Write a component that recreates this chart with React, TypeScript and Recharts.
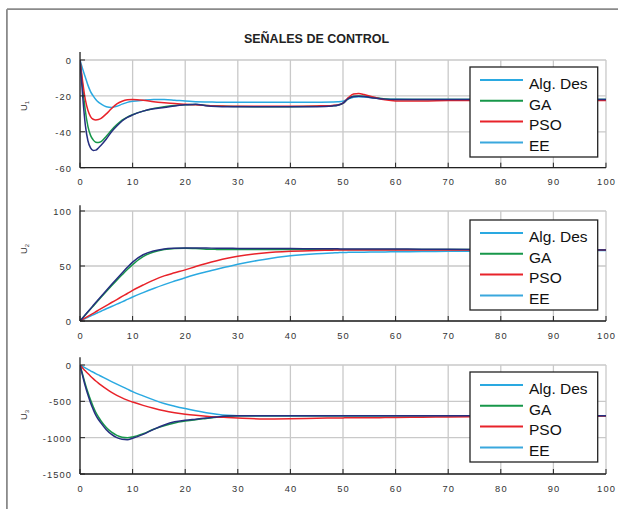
import React from 'react';
import { LineChart, Line, XAxis, YAxis, CartesianGrid, ReferenceLine } from 'recharts';

// ---------------- data ----------------
const TITLE = 'SEÑALES DE CONTROL';
const SERIES_NAMES = ['Alg. Des', 'GA', 'PSO', 'EE'];
const SERIES_KEYS = ['alg', 'ga', 'pso', 'ee'];
const LINE_COLORS = ['#2aa9e1', '#17974a', '#e8232a', '#262f80'];
const LEGEND_COLORS = ['#2aa9e1', '#17974a', '#e8232a', '#3aa8dd'];

const T = [0, 0.5, 1, 1.5, 2, 2.5, 3, 3.5, 4, 5, 6, 7, 8, 9, 10, 12, 14, 16, 18, 20, 22, 24, 26, 28, 30, 35, 40, 45, 48, 49, 50, 51, 52, 53, 54, 56, 58, 60, 65, 70, 80, 90, 100];

const X_TICKS = [0, 10, 20, 30, 40, 50, 60, 70, 80, 90, 100];

// U1
const U1_ALG = [0, -5, -9.5, -14, -17.6, -20, -22, -23.5, -24.5, -26, -26.4, -25.8, -24.6, -23.6, -23, -22.4, -22, -22, -22.4, -22.9, -23.2, -23.4, -23.5, -23.6, -23.6, -23.6, -23.6, -23.5, -23.4, -23.3, -23, -21.8, -20.8, -20.5, -20.6, -21.2, -21.7, -21.9, -22, -22, -22, -22, -22];
const U1_GA = [0, -15, -28, -37, -42, -44.5, -45.8, -46, -45.5, -42.5, -39, -36, -33.5, -31.8, -30.5, -28.5, -27, -26, -25.3, -24.9, -24.8, -25.3, -25.6, -25.8, -25.9, -26, -26, -25.8, -25.5, -25.2, -24.2, -21.5, -20.2, -20, -20.2, -21, -21.7, -22, -22, -22, -22, -22, -22];
const U1_PSO = [0, -12, -22, -28, -31.5, -33, -33.4, -33.2, -32.5, -30, -27, -24.5, -23, -22.2, -22, -22.4, -23.2, -23.8, -24.3, -24.6, -25, -25.4, -25.6, -25.7, -25.8, -25.8, -25.8, -25.6, -25.3, -25, -24, -21, -19, -18.7, -19.2, -20.8, -22.2, -22.8, -22.8, -22.6, -22.5, -22.5, -22.5];
const U1_EE = [0, -20, -36, -45, -49, -50.4, -50.2, -49, -47.5, -44, -40, -36.8, -34, -32, -30.6, -28.5, -27.2, -26.5, -25.6, -25, -24.6, -25.5, -25.9, -26, -26, -26, -26.1, -26, -25.6, -25.2, -24, -21.5, -20.4, -20.2, -20.4, -21.2, -21.8, -22, -22, -22, -22, -22, -22];

// U2
const U2_ALG = [0, 1.15, 2.3, 3.4, 4.5, 5.6, 6.7, 7.8, 8.9, 11.1, 13.2, 15.3, 17.4, 19.6, 21.8, 25.8, 29.6, 33.1, 36.3, 39.4, 42.2, 44.7, 47.1, 49.3, 51.5, 56, 59.3, 61.2, 61.9, 62.1, 62.3, 62.4, 62.5, 62.5, 62.6, 62.7, 62.8, 62.9, 63.1, 63.3, 63.6, 63.9, 64.2];
const U2_GA = [0, 2.7, 5.4, 8.1, 10.8, 13.5, 16.2, 18.9, 21.5, 26.8, 32, 37.1, 42, 46.8, 51.3, 58.5, 62.7, 65, 66, 66.2, 65.8, 65.3, 65.1, 65, 65, 65, 65, 65, 65, 65, 65, 65, 65, 65, 65, 65, 65, 65, 65, 65, 64.9, 64.8, 64.6];
const U2_PSO = [0, 1.4, 2.8, 4.2, 5.6, 7, 8.4, 9.8, 11.2, 14, 16.8, 19.5, 22.3, 25, 27.9, 32.7, 37.2, 41, 43.8, 46.5, 49.5, 52.3, 54.8, 57, 58.8, 61.8, 63.4, 64.2, 64.4, 64.5, 64.5, 64.6, 64.6, 64.6, 64.6, 64.6, 64.6, 64.6, 64.6, 64.6, 64.6, 64.6, 64.6];
const U2_EE = [0, 2.8, 5.6, 8.4, 11.2, 14, 16.8, 19.5, 22.3, 27.8, 33.2, 38.5, 43.7, 48.8, 53.5, 60.2, 63.6, 65.4, 66.1, 66.4, 66.4, 66.3, 66.2, 66.1, 66, 65.9, 65.8, 65.7, 65.6, 65.6, 65.5, 65.5, 65.5, 65.5, 65.5, 65.5, 65.4, 65.4, 65.3, 65.2, 65, 64.8, 64.6];

// U3
const U3_ALG = [0, -20, -40, -60, -80, -99, -118, -137, -155, -192, -228, -263, -297, -332, -367, -425, -480, -530, -567, -600, -630, -656, -677, -692, -699, -700, -700, -700, -700, -700, -700, -700, -700, -700, -700, -700, -700, -700, -700, -700, -700, -700, -700];
const U3_GA = [0, -130, -260, -375, -480, -570, -650, -715, -770, -860, -925, -968, -993, -1000, -990, -945, -885, -835, -797, -772, -752, -735, -718, -705, -700, -698, -698, -698, -698, -698, -698, -698, -698, -698, -698, -698, -698, -698, -698, -698, -698, -698, -698];
const U3_PSO = [0, -40, -80, -118, -154, -188, -220, -250, -278, -330, -376, -417, -453, -484, -510, -556, -596, -630, -656, -677, -693, -706, -716, -723, -730, -742, -740, -733, -730, -729, -728, -727, -727, -726, -726, -725, -724, -722, -718, -715, -710, -706, -703];
const U3_EE = [0, -150, -290, -410, -520, -610, -690, -750, -800, -890, -955, -1000, -1022, -1027, -1008, -955, -885, -825, -782, -760, -745, -730, -715, -703, -698, -698, -698, -698, -698, -698, -698, -698, -698, -698, -698, -698, -698, -698, -698, -698, -698, -698, -698];

const U1_TICKS = [-60, -40, -20, 0];
const U2_TICKS = [0, 50, 100];
const U3_TICKS = [-1500, -1000, -500, 0];

const buildRows = (a: number[], g: number[], p: number[], e: number[]) =>
  T.map((t, i) => ({ t, alg: a[i], ga: g[i], pso: p[i], ee: e[i] }));

const PANELS = [
  { label: '1', rows: buildRows(U1_ALG, U1_GA, U1_PSO, U1_EE), ticks: U1_TICKS, ext: 4.5, plotTop: 60, plotBottom: 167.7, legendTop: 67, labelY: 106 },
  { label: '2', rows: buildRows(U2_ALG, U2_GA, U2_PSO, U2_EE), ticks: U2_TICKS, ext: 5.2, plotTop: 210.7, plotBottom: 320.7, legendTop: 220, labelY: 249 },
  { label: '3', rows: buildRows(U3_ALG, U3_GA, U3_PSO, U3_EE), ticks: U3_TICKS, ext: 106, plotTop: 365, plotBottom: 474, legendTop: 372, labelY: 415 },
];

// ---------------- styling ----------------
const FONT = '"Liberation Sans", Arial, Helvetica, sans-serif';
const AXIS = '#222';
const TICK_TEXT = '#333';
const PLOT_LEFT = 80;
const PLOT_RIGHT = 606;
const W = 618;

const XTick = (props: any) => {
  const { x, y, payload } = props;
  return (
    <g>
      <line x1={x} x2={x} y1={y} y2={y - 5} stroke={AXIS} strokeWidth={1} />
      <text x={x + 0.6} y={y + 17.5} textAnchor="middle" fontSize={9.3} letterSpacing={1.2} fill={TICK_TEXT} fontFamily={FONT}>
        {payload.value}
      </text>
    </g>
  );
};

const YTick = (props: any) => {
  const { x, y, payload } = props;
  return (
    <g>
      <line x1={x} x2={x + 5} y1={y} y2={y} stroke={AXIS} strokeWidth={1} />
      <text x={x - 8} y={y + 4} textAnchor="end" fontSize={9.3} letterSpacing={1.1} fill={TICK_TEXT} fontFamily={FONT}>
        {payload.value}
      </text>
    </g>
  );
};

const Panel = ({ p }: { p: any }) => {
  const chartTop = p.plotTop - 20;
  const xAxisH = 28;
  const height = p.plotBottom - chartTop + xAxisH + 2;
  const min = p.ticks[0];
  const max = p.ticks[p.ticks.length - 1];
  return (
    <div style={{ position: 'absolute', left: 0, top: chartTop }}>
      <LineChart width={W} height={height} data={p.rows} margin={{ top: 20, right: W - PLOT_RIGHT, bottom: 2, left: 20 }}>
        <CartesianGrid stroke="#c9c9c9" strokeWidth={1.3} />
        <XAxis
          type="number"
          dataKey="t"
          domain={[0, 100]}
          ticks={X_TICKS}
          interval={0}
          tick={XTick}
          tickLine={false}
          tickSize={0}
          tickMargin={0}
          height={xAxisH}
          axisLine={{ stroke: AXIS, strokeWidth: 1.3 }}
          allowDataOverflow
        />
        <YAxis
          type="number"
          domain={[min, max]}
          ticks={p.ticks}
          interval={0}
          tick={YTick}
          tickLine={false}
          tickSize={0}
          tickMargin={0}
          width={PLOT_LEFT - 20}
          axisLine={{ stroke: AXIS, strokeWidth: 1.3 }}
          allowDataOverflow
        />
        <ReferenceLine
          segment={[{ x: 0, y: max }, { x: 0, y: max + p.ext }]}
          stroke={AXIS}
          strokeWidth={1.3}
          ifOverflow="visible"
        />
        {SERIES_KEYS.map((k, i) => (
          <Line
            key={k}
            type="monotone"
            dataKey={k}
            stroke={LINE_COLORS[i]}
            strokeWidth={1.5}
            dot={false}
            activeDot={false}
            isAnimationActive={false}
          />
        ))}
      </LineChart>
    </div>
  );
};

const LegendBox = ({ top }: { top: number }) => {
  const x = 470;
  const w = 127.7;
  const h = 90;
  return (
    <g>
      <rect x={x} y={top} width={w} height={h} fill="#fff" stroke={AXIS} strokeWidth={1.3} />
      {SERIES_NAMES.map((name, i) => {
        const sy = top + 13 + i * 20.8;
        return (
          <g key={name}>
            <line x1={480} x2={523} y1={sy} y2={sy} stroke={LEGEND_COLORS[i]} strokeWidth={2} />
            <text x={529} y={sy + 8.7} fontSize={15.5} fill="#111" fontFamily={FONT}>
              {name}
            </text>
          </g>
        );
      })}
    </g>
  );
};

export default function App() {
  return (
    <div style={{ position: 'absolute', left: 0, top: 0, width: W, height: 509, background: '#fff', overflow: 'hidden' }}>
      {PANELS.map((p) => (
        <Panel key={p.label} p={p} />
      ))}
      <svg width={W} height={509} style={{ position: 'absolute', left: 0, top: 0, pointerEvents: 'none' }}>
        <line x1={7} x2={W} y1={9.2} y2={9.2} stroke="#8a8a8a" strokeWidth={1.8} />
        <line x1={6.9} x2={6.9} y1={9.2} y2={509} stroke="#8a8a8a" strokeWidth={1.8} />
        <text x={316.5} y={42.7} textAnchor="middle" fontSize={12.5} fontWeight="bold" fill="#222" fontFamily={FONT}>
          {TITLE}
        </text>
        {PANELS.map((p) => (
          <g key={p.label}>
            <text transform={`translate(26.7, ${p.labelY}) rotate(-90)`} textAnchor="middle" fontSize={9.5} fill={TICK_TEXT} fontFamily={FONT}>
              U<tspan fontSize={6} dy={2.5}>{p.label}</tspan>
            </text>
            <LegendBox top={p.legendTop} />
          </g>
        ))}
      </svg>
    </div>
  );
}
